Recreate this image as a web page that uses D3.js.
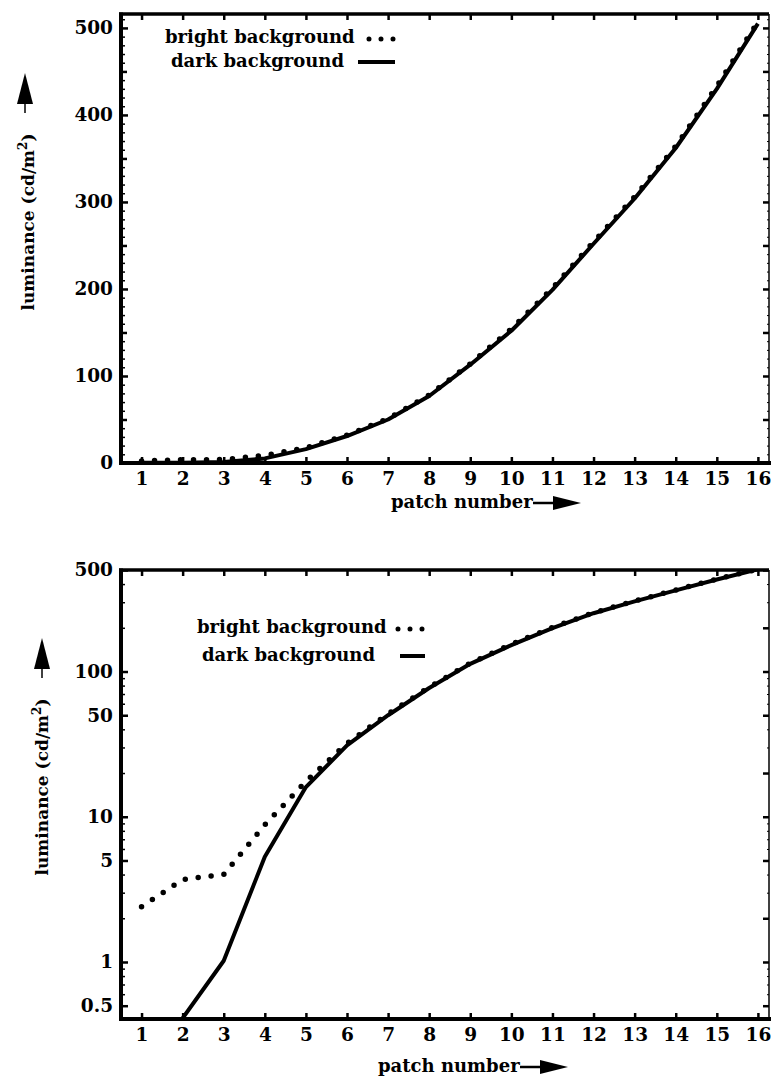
<!DOCTYPE html>
<html>
<head>
<meta charset="utf-8">
<script src="https://cdn.jsdelivr.net/npm/d3@7"></script>
<style>
  body { margin: 0; background: #fff; }
  svg { display: block; }
  text { font-family: "DejaVu Serif", serif; font-weight: bold; fill: #000; }
  .tick line { stroke: #000; stroke-width: 2.5; }
  .tick text { font-size: 18.5px; }
</style>
</head>
<body>
<svg id="chart" width="771" height="1083"></svg>
<script>
// patch numbers on the x axis
const patches = [1, 2, 3, 4, 5, 6, 7, 8, 9, 10, 11, 12, 13, 14, 15, 16];

// luminance in cd/m^2
const brightBg = [2.4, 3.7, 4.0, 8.8, 17.5, 32, 51, 78, 114, 154, 201, 254, 306, 364, 433, 507];
const darkBg   = [0.15, 0.41, 1.02, 5.3, 16, 31, 50, 77, 113, 152, 199, 252, 304, 362, 430, 505];

// tick values
const linMajor = [0, 100, 200, 300, 400, 500];
const linMid = [50, 150, 250, 350, 450];
const linMinor = [10, 20, 30, 40, 60, 70, 80, 90, 110, 120, 130, 140, 160, 170, 180, 190,
  210, 220, 230, 240, 260, 270, 280, 290, 310, 320, 330, 340, 360, 370, 380, 390,
  410, 420, 430, 440, 460, 470, 480, 490, 510];
const logLabels = [0.5, 1, 5, 10, 50, 100, 500];
const logRight = [0.5, 1, 2, 5, 10, 20, 50, 100, 200, 500];
const logMinor = [0.6, 0.7, 0.8, 0.9, 2, 3, 4, 6, 7, 8, 9, 20, 30, 40, 60, 70, 80, 90,
  200, 300, 400];

const legendLabels = ["bright background", "dark background"];

let svg = d3.select('#chart');

let x = d3.scaleLinear().domain([0.5, 16.27]).range([121, 769]);

function drawPanel(opts) {
    let y = opts.y;
    let top = opts.top, bottom = opts.bottom;
    let g = svg.append('g');

    let clipId = 'clip' + opts.id;
    svg.append('clipPath').attr('id', clipId)
        .append('rect')
        .attr('x', 121).attr('y', top)
        .attr('width', 769 - 121).attr('height', bottom - top);

    // ticks
    g.append('g')
        .attr('transform', `translate(0,${bottom})`)
        .call(d3.axisBottom(x).tickValues(patches).tickSizeInner(-6).tickSizeOuter(0).tickPadding(9))
        .call(a => a.select('.domain').remove());

    g.append('g')
        .attr('transform', `translate(0,${top})`)
        .call(d3.axisTop(x).tickValues(patches).tickSizeInner(-6).tickSizeOuter(0).tickFormat(''))
        .call(a => a.select('.domain').remove());

    g.append('g')
        .attr('transform', 'translate(121,0)')
        .call(d3.axisLeft(y).tickValues(opts.leftLabels).tickSizeInner(-7).tickSizeOuter(0)
            .tickPadding(8).tickFormat(d3.format('')))
        .call(a => a.select('.domain').remove());

    if (opts.leftMid) {
        g.append('g')
            .attr('transform', 'translate(121,0)')
            .call(d3.axisLeft(y).tickValues(opts.leftMid).tickSizeInner(-6).tickSizeOuter(0).tickFormat(''))
            .call(a => a.select('.domain').remove());
    }

    g.append('g')
        .attr('transform', 'translate(121,0)')
        .call(d3.axisLeft(y).tickValues(opts.minor).tickSizeInner(-4).tickSizeOuter(0).tickFormat(''))
        .call(a => a.select('.domain').remove())
        .selectAll('line').style('stroke-width', 1.5);

    g.append('g')
        .attr('transform', 'translate(769,0)')
        .call(d3.axisRight(y).tickValues(opts.rightTicks).tickSizeInner(-6).tickSizeOuter(0).tickFormat(''))
        .call(a => a.select('.domain').remove());

    g.append('g')
        .attr('transform', 'translate(769,0)')
        .call(d3.axisRight(y).tickValues(opts.minor).tickSizeInner(-2).tickSizeOuter(0).tickFormat(''))
        .call(a => a.select('.domain').remove())
        .selectAll('line').style('stroke-width', 1);

    // lines
    let line = d3.line()
        .x((d, i) => x(patches[i]))
        .y(d => y(d));

    let plot = g.append('g').attr('clip-path', `url(#${clipId})`);

    plot.append('path')
        .attr('d', line(darkBg))
        .attr('fill', 'none')
        .attr('stroke', '#000')
        .attr('stroke-width', 4)
        .attr('stroke-linejoin', 'round');

    plot.append('path')
        .attr('d', line(brightBg))
        .attr('fill', 'none')
        .attr('stroke', '#000')
        .attr('stroke-width', 5.5)
        .attr('stroke-linecap', 'round')
        .attr('stroke-dasharray', '0,13');

    // frame
    g.append('line').attr('x1', 119).attr('x2', 769).attr('y1', top).attr('y2', top)
        .attr('stroke', '#000').attr('stroke-width', 3.5);
    g.append('line').attr('x1', 769).attr('x2', 769).attr('y1', top).attr('y2', bottom)
        .attr('stroke', '#000').attr('stroke-width', 1.5);
    g.append('line').attr('x1', 121).attr('x2', 121).attr('y1', top - 1.5).attr('y2', bottom + 2)
        .attr('stroke', '#000').attr('stroke-width', 4);
    g.append('line').attr('x1', 119).attr('x2', 771).attr('y1', bottom).attr('y2', bottom)
        .attr('stroke', '#000').attr('stroke-width', 4);

    // legend
    let lg = g.append('g');
    lg.append('text').attr('x', opts.leg.x1).attr('y', opts.leg.y1)
        .style('font-size', '18px').text(legendLabels[0]);
    lg.append('text').attr('x', opts.leg.x2).attr('y', opts.leg.y2)
        .style('font-size', '18px').text(legendLabels[1]);
    lg.append('line')
        .attr('x1', opts.leg.dot0).attr('x2', opts.leg.dot0 + 26)
        .attr('y1', opts.leg.y1 - 4).attr('y2', opts.leg.y1 - 4)
        .attr('stroke', '#000').attr('stroke-width', 5)
        .attr('stroke-linecap', 'round').attr('stroke-dasharray', '0,12');
    lg.append('line')
        .attr('x1', opts.leg.sol0).attr('x2', opts.leg.sol0 + opts.leg.solW)
        .attr('y1', opts.leg.y2 - 5).attr('y2', opts.leg.y2 - 5)
        .attr('stroke', '#000').attr('stroke-width', 4);

    // x title with arrow
    let xt = g.append('g');
    xt.append('text').attr('x', opts.xt.x).attr('y', opts.xt.y)
        .style('font-size', '18px').text('patch number');
    let ax = opts.xt.x + 142, ay = opts.xt.y - 5;
    xt.append('line').attr('x1', ax).attr('x2', ax + 26).attr('y1', ay).attr('y2', ay)
        .attr('stroke', '#000').attr('stroke-width', 2.5);
    xt.append('path')
        .attr('d', `M${ax + 20},${ay - 7} L${ax + 48},${ay} L${ax + 20},${ay + 7} Z`)
        .attr('fill', '#000');

    // y title with arrow
    let yt = g.append('g');
    let ylab = yt.append('text')
        .attr('transform', `translate(${opts.yt.x},${opts.yt.y}) rotate(-90)`)
        .attr('text-anchor', 'middle')
        .style('font-size', '17px');
    ylab.append('tspan').text('luminance (cd/m');
    ylab.append('tspan').attr('dy', -7).style('font-size', '12px').text('2');
    ylab.append('tspan').attr('dy', 7).text(')');

    let cx = opts.yt.ax, cy = opts.yt.ay;
    yt.append('line').attr('x1', cx).attr('x2', cx).attr('y1', cy + 10).attr('y2', cy + 40)
        .attr('stroke', '#000').attr('stroke-width', 1.5);
    yt.append('path')
        .attr('d', `M${cx},${cy} L${cx + 8},${cy + 31} L${cx - 8},${cy + 31} Z`)
        .attr('fill', '#000');
}

drawPanel({
    id: 'a',
    top: 14, bottom: 463,
    y: d3.scaleLinear().domain([0, 516]).range([463, 14]),
    leftLabels: linMajor,
    leftMid: linMid,
    minor: linMinor,
    rightTicks: linMid.concat(linMajor),
    leg: { x1: 165, y1: 43, x2: 171, y2: 67, dot0: 369, sol0: 358, solW: 37 },
    xt: { x: 391, y: 508 },
    yt: { x: 34, y: 222, ax: 25, ay: 73 }
});

drawPanel({
    id: 'b',
    top: 570, bottom: 1019,
    y: d3.scaleLog().domain([0.405, 500]).range([1019, 570]),
    leftLabels: logLabels,
    leftMid: null,
    minor: logMinor,
    rightTicks: logRight,
    leg: { x1: 197, y1: 633, x2: 202, y2: 661, dot0: 398, sol0: 400, solW: 25 },
    xt: { x: 378, y: 1072 },
    yt: { x: 48, y: 787, ax: 42, ay: 638 }
});
</script>
</body>
</html>
